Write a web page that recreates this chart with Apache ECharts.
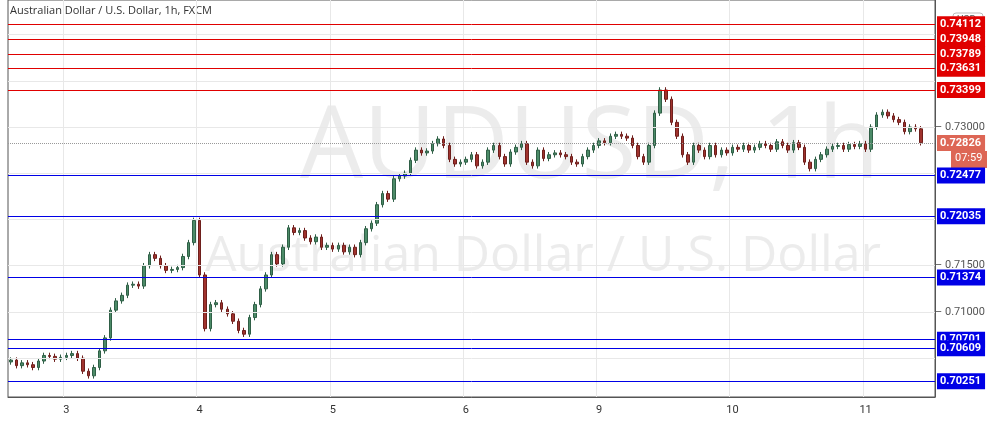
<!DOCTYPE html><html><head><meta charset="utf-8">
<script src="https://cdn.jsdelivr.net/npm/echarts@6/dist/echarts.min.js"></script>
<style>html,body{margin:0;padding:0;background:#fff}#c{width:1004px;height:429px}</style></head><body><div id="c"></div>
<script>
const closes=[0.7048,0.7042,0.7045,0.7043,0.7040,0.7047,0.7053,0.7052,0.7049,0.7051,
0.7053,0.7055,0.7050,0.7036,0.7031,0.7040,0.7058,0.7072,0.7102,0.7112,
0.7118,0.7129,0.7130,0.7128,0.7150,0.7162,0.7158,0.7150,0.7145,0.7146,0.7148,0.7160,0.7175,0.7199,
0.7140,0.7082,0.7108,0.7110,0.7103,0.7098,0.7090,0.7080,0.7076,0.7094,0.7108,0.7125,0.7140,0.7162,0.7152,0.7170,0.7191,0.7186,0.7188,0.7180,0.7176,0.7181,0.7170,0.7172,
0.7168,0.7172,0.7165,0.7170,0.7162,0.7175,0.7190,0.7196,0.7216,0.7228,0.7222,0.7244,0.7247,0.7250,0.7264,0.7275,0.7272,0.7274,0.7282,0.7287,0.7280,0.7265,0.7260,0.7262,
0.7265,0.7270,0.7258,0.7262,0.7275,0.7280,0.7268,0.7260,0.7273,0.7278,0.7282,0.7262,0.7258,0.7275,0.7266,0.7270,0.7272,0.7270,0.7268,0.7262,0.7260,0.7268,0.7275,0.7280,
0.7285,0.7283,0.7290,0.7292,0.7290,0.7288,0.7280,0.7268,0.7262,0.7280,0.7315,0.7340,0.7330,0.7305,0.7290,0.7270,0.7262,0.7280,0.7275,0.7268,0.7280,0.7270,0.7275,0.7272,
0.7278,0.7276,0.7280,0.7275,0.7278,0.7282,0.7280,0.7276,0.7284,0.7280,0.7275,0.7283,0.7278,0.7262,0.7255,0.7265,0.7270,0.7276,0.7279,0.7280,0.7276,0.7281,0.7279,0.7282,
0.7276,0.7300,0.7313,0.7316,0.7312,0.7308,0.7305,0.7295,0.7300,0.7298,0.7283];
const firstOpen=0.7046;
const dayLabels={10:'3',34:'4',58:'5',82:'6',106:'9',130:'10',154:'11'};
const redLevels=[0.74112,0.73948,0.73789,0.73631,0.73399];
const blueLevels=[0.72477,0.72035,0.71374,0.70701,0.70609,0.70251];
const gridLevels=[0.705,0.710,0.715,0.720,0.725,0.730,0.735,0.740];
const tickLabels=[0.710,0.715,0.730];
const lastPrice=0.72826;
const wick=0.0003;

const cats=[],ohlc=[];
for(let i=0;i<closes.length+2;i++)cats.push(String(i));
closes.forEach((c,i)=>{const o=i?closes[i-1]:firstOpen;ohlc.push([o,c,Math.min(o,c)-wick,Math.max(o,c)+wick]);});
const boxLabel=(col)=>({show:true,position:'end',formatter:'{b}',color:'#fff',backgroundColor:col,padding:[3,4,2,3],fontSize:11,fontWeight:'bold',fontFamily:'Roboto',distance:2});
const lvl=(v,col)=>({name:v.toFixed(5),yAxis:v,lineStyle:{color:col,width:1,type:'solid'},label:boxLabel(col)});
const mk=[
 ...gridLevels.map(v=>({name:'– '+v.toFixed(5),yAxis:v,lineStyle:{color:'#e8e8e8',type:'solid',width:1},label:{show:tickLabels.includes(v),position:'end',formatter:'{b}',color:'#555',fontSize:11,fontFamily:'Roboto',distance:0}})),
 ...redLevels.map(v=>lvl(v,'#e00000')),...blueLevels.map(v=>lvl(v,'#0000e6')),
 {name:lastPrice.toFixed(5),yAxis:lastPrice,lineStyle:{color:'#999',type:'dotted',width:1},label:boxLabel('#dd6655')}
];
const ch=echarts.init(document.getElementById('c'));
ch.setOption({animation:false,
grid:{left:8,right:69,top:0,bottom:32,show:true,borderColor:'#555',borderWidth:1},
xAxis:{type:'category',data:cats,boundaryGap:true,axisTick:{show:false},axisLine:{lineStyle:{color:'#555'}},
 axisLabel:{interval:(i)=>dayLabels[i]!==undefined,formatter:(v)=>dayLabels[v]||'',color:'#333',fontSize:11,fontFamily:'Roboto',margin:8},
 splitLine:{show:true,interval:(i)=>dayLabels[i]!==undefined,lineStyle:{color:'#e8e8e8'}}},
yAxis:{type:'value',position:'right',min:0.70081,max:0.74373,splitLine:{show:false},axisLabel:{show:false},axisLine:{show:true,lineStyle:{color:'#555'}}},
series:[
{type:'candlestick',data:ohlc,barWidth:3,itemStyle:{color:'#4c8b68',color0:'#a0332e',borderColor:'#2f5f46',borderColor0:'#6e1f1c',borderWidth:1},
 markLine:{symbol:'none',silent:true,precision:5,data:mk}}
],
graphic:[
{type:'text',left:300,top:100,z:-1,style:{text:'AUDUSD, 1h',fontSize:100,fontFamily:'Open Sans',fill:'rgba(200,200,200,0.35)'}},
{type:'text',left:205,top:232,z:-1,style:{text:'Australian Dollar / U.S. Dollar',fontSize:50,fontFamily:'Open Sans',fill:'rgba(200,200,200,0.35)'}},
{type:'text',left:10,top:5,style:{text:'Australian Dollar / U.S. Dollar, 1h, FXCM',fontSize:11,fontFamily:'Open Sans',fill:'#333'}},
{type:'rect',shape:{x:951,y:151,width:36,height:17},style:{fill:'#dd6655'}},
{type:'text',left:955,top:153,style:{text:'07:59',fontSize:11,fontFamily:'Roboto',fill:'#fff'}},
{type:'rect',shape:{x:953,y:13,width:30,height:16,r:3},style:{fill:'#fff',stroke:'#bbb'}},
{type:'text',left:957,top:15,style:{text:'USD',fontSize:10,fontFamily:'Roboto',fill:'#555'}}
]});
</script></body></html>
